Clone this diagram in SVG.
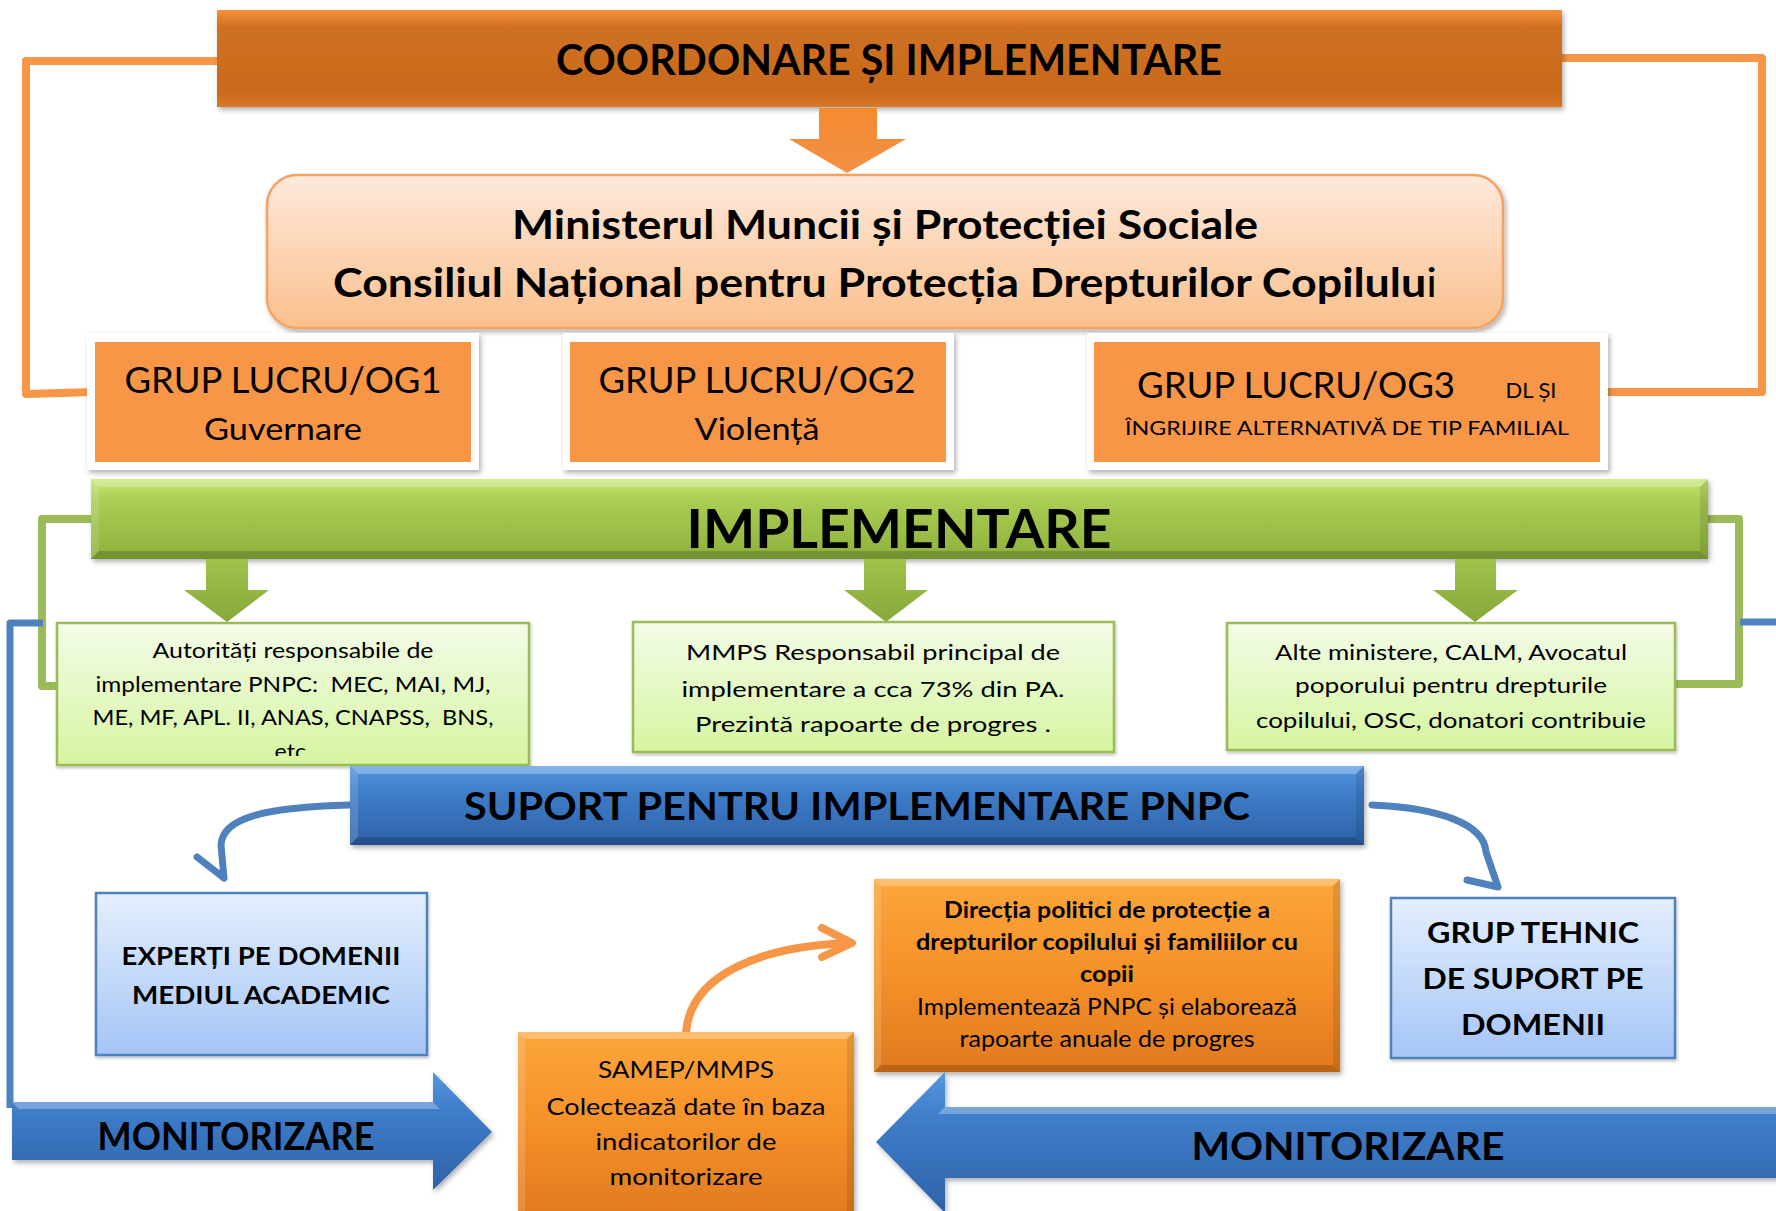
<svg xmlns="http://www.w3.org/2000/svg" width="1776" height="1211" viewBox="0 0 1776 1211">
<defs>
<style>
text{font-family:Lato,"Open Sans","Liberation Sans",sans-serif;fill:#000;text-anchor:middle}
.b{font-weight:bold}
.pre{white-space:pre}
.conn{fill:none;stroke-linejoin:round}
.or{stroke:#F79646;stroke-width:8}
.gr{stroke:#9BBB59;stroke-width:8}
.bl{stroke:#4F81BD;stroke-width:7}
.hl{fill:#fff;opacity:.28}
.hl2{fill:#fff;opacity:.14}
.dk{fill:#000;opacity:.18}
.dk2{fill:#000;opacity:.1}
</style>
<filter id="sh" x="-10%" y="-10%" width="120%" height="130%"><feDropShadow dx="2" dy="3" stdDeviation="2.5" flood-color="#000" flood-opacity="0.3"/></filter>
<filter id="shs" x="-10%" y="-10%" width="120%" height="130%"><feDropShadow dx="1" dy="2" stdDeviation="1.5" flood-color="#000" flood-opacity="0.25"/></filter>
<linearGradient id="gTop" x1="0" y1="0" x2="0" y2="1"><stop offset="0" stop-color="#F7913A"/><stop offset="0.18" stop-color="#CF7021"/><stop offset="0.85" stop-color="#C96A1E"/><stop offset="1" stop-color="#D87A28"/></linearGradient>
<linearGradient id="gPeach" x1="0" y1="0" x2="0" y2="1"><stop offset="0" stop-color="#FDE9DC"/><stop offset="1" stop-color="#FBC08C"/></linearGradient>
<linearGradient id="gOrArr" x1="0" y1="0" x2="0" y2="1"><stop offset="0" stop-color="#F58A30"/><stop offset="1" stop-color="#F29045"/></linearGradient>
<linearGradient id="gGreen" x1="0" y1="0" x2="0" y2="1"><stop offset="0" stop-color="#C6E46E"/><stop offset="0.3" stop-color="#A9CC52"/><stop offset="1" stop-color="#8DB13C"/></linearGradient>
<linearGradient id="gGrArr" x1="0" y1="0" x2="0" y2="1"><stop offset="0" stop-color="#9FC34A"/><stop offset="1" stop-color="#86A83C"/></linearGradient>
<linearGradient id="gLG" x1="0" y1="0" x2="0" y2="1"><stop offset="0" stop-color="#F3FCE8"/><stop offset="1" stop-color="#D6F5A0"/></linearGradient>
<linearGradient id="gBlue" x1="0" y1="0" x2="0" y2="1"><stop offset="0" stop-color="#5396E0"/><stop offset="0.35" stop-color="#3F7CC8"/><stop offset="1" stop-color="#2D62A8"/></linearGradient>
<linearGradient id="gLB" x1="0" y1="0" x2="0" y2="1"><stop offset="0" stop-color="#E4EFFD"/><stop offset="1" stop-color="#A5C5F6"/></linearGradient>
<linearGradient id="gOr" x1="0" y1="0" x2="0" y2="1"><stop offset="0" stop-color="#FCA63A"/><stop offset="0.5" stop-color="#F5912A"/><stop offset="1" stop-color="#E07A1E"/></linearGradient>
<clipPath id="clipA"><rect x="57" y="623" width="472" height="133"/></clipPath>
</defs>
<rect width="1776" height="1211" fill="#fff"/>

<g id="connectors">
<polyline class="conn or" points="217,61 26,61 26,394 95,392"/>
<polyline class="conn or" points="1562,58 1762,58 1762,392 1604,392"/>
<polyline class="conn gr" points="91,519 42,519 42,686 57,686"/>
<polyline class="conn gr" points="1708,519 1739,519 1739,684 1675,684"/>
<polyline class="conn bl" points="43,623 10,623 10,1108"/>
<polyline class="conn bl" points="1740,622 1780,622"/>
<path class="conn bl" stroke-linecap="round" d="M350,805 C265,807 222,818 221,845 L224,878 M197,857 L224,878"/>
<path class="conn bl" stroke-linecap="round" d="M1372,805 C1440,808 1484,824 1486,852 L1498,887 M1467,880 L1498,887"/>
<path class="conn or" stroke-width="9" stroke-linecap="round" d="M686,1033 C690,975 760,946 850,943 M822,928 L852,943 L822,957"/>
</g>

<g id="coordonare">
<rect x="217" y="10" width="1345" height="97" fill="url(#gTop)" filter="url(#sh)"/>
<text class="b" x="889" y="75" font-size="42" textLength="666" lengthAdjust="spacingAndGlyphs">COORDONARE ȘI IMPLEMENTARE</text>
</g>

<g id="arrow-top">
<polygon points="819,108 877,108 877,139 906,139 847,173 789,139 819,139" fill="url(#gOrArr)"/>
</g>

<g id="ministerul">
<rect x="267" y="175" width="1236" height="153" rx="30" fill="url(#gPeach)" stroke="#F4A264" stroke-width="2.5" filter="url(#sh)"/>
<text class="b" x="885" y="239" font-size="40" textLength="746" lengthAdjust="spacingAndGlyphs">Ministerul Muncii și Protecției Sociale</text>
<text class="b" x="885" y="297" font-size="40" textLength="1104" lengthAdjust="spacingAndGlyphs">Consiliul Național pentru Protecția Drepturilor Copilulu<tspan font-weight="normal">i</tspan></text>
</g>

<g id="og1">
<rect x="87" y="333" width="392" height="137" fill="#fff" filter="url(#sh)"/>
<rect x="95" y="342" width="376" height="120" fill="#F79646"/>
<text x="283" y="393" font-size="36" textLength="317" lengthAdjust="spacingAndGlyphs">GRUP LUCRU/OG1</text>
<text x="283" y="440" font-size="31" textLength="158" lengthAdjust="spacingAndGlyphs">Guvernare</text>
</g>

<g id="og2">
<rect x="563" y="333" width="391" height="137" fill="#fff" filter="url(#sh)"/>
<rect x="570" y="342" width="376" height="120" fill="#F79646"/>
<text x="757" y="393" font-size="36" textLength="317" lengthAdjust="spacingAndGlyphs">GRUP LUCRU/OG2</text>
<text x="757" y="440" font-size="31" textLength="125" lengthAdjust="spacingAndGlyphs">Violență</text>
</g>

<g id="og3">
<rect x="1087" y="333" width="521" height="137" fill="#fff" filter="url(#sh)"/>
<rect x="1094" y="342" width="506" height="120" fill="#F79646"/>
<text x="1296" y="398" font-size="36" textLength="318" lengthAdjust="spacingAndGlyphs">GRUP LUCRU/OG3</text>
<text x="1531" y="398" font-size="21" textLength="51" lengthAdjust="spacingAndGlyphs">DL ȘI</text>
<text x="1347" y="435" font-size="20" textLength="444" lengthAdjust="spacingAndGlyphs">ÎNGRIJIRE ALTERNATIVĂ DE TIP FAMILIAL</text>
</g>

<g id="implementare">
<rect x="91" y="479" width="1617" height="80" fill="url(#gGreen)" filter="url(#sh)"/>
<polygon class="hl" points="91,479 1708,479 1700,487 99,487"/>
<polygon class="hl2" points="91,479 99,487 99,551 91,559"/>
<polygon class="dk" points="91,559 99,551 1700,551 1708,559"/>
<polygon class="dk2" points="1708,479 1708,559 1700,551 1700,487"/>
<text class="b" x="899" y="548" font-size="53" textLength="425" lengthAdjust="spacingAndGlyphs">IMPLEMENTARE</text>
</g>

<g id="green-arrows">
<polygon points="206,559 248,559 248,590 269,590 227,622 184,590 206,590" fill="url(#gGrArr)"/>
<polygon points="864,559 906,559 906,590 928,590 886,622 844,590 864,590" fill="url(#gGrArr)"/>
<polygon points="1455,559 1496,559 1496,590 1518,590 1475,622 1433,590 1455,590" fill="url(#gGrArr)"/>
</g>

<g id="autoritati">
<rect x="57" y="623" width="472" height="142" fill="url(#gLG)" stroke="#9BBB59" stroke-width="2.5" filter="url(#shs)"/>
<text x="293" y="658" font-size="21" textLength="281" lengthAdjust="spacingAndGlyphs">Autorități responsabile de</text>
<text class="pre" x="293" y="692" font-size="21" textLength="395" lengthAdjust="spacingAndGlyphs">implementare PNPC:  MEC, MAI, MJ,</text>
<text class="pre" x="293" y="725" font-size="21" textLength="401" lengthAdjust="spacingAndGlyphs">ME, MF, APL. II, ANAS, CNAPSS,  BNS,</text>
<text x="293" y="759" font-size="21" textLength="37" lengthAdjust="spacingAndGlyphs" clip-path="url(#clipA)">etc.</text>
</g>

<g id="mmps">
<rect x="633" y="622" width="481" height="130" fill="url(#gLG)" stroke="#9BBB59" stroke-width="2.5" filter="url(#shs)"/>
<text x="873" y="660" font-size="22" textLength="374" lengthAdjust="spacingAndGlyphs">MMPS Responsabil principal de</text>
<text x="873" y="697" font-size="22" textLength="383" lengthAdjust="spacingAndGlyphs">implementare a cca 73% din PA.</text>
<text x="873" y="732" font-size="22" textLength="356" lengthAdjust="spacingAndGlyphs">Prezintă rapoarte de progres .</text>
</g>

<g id="alte">
<rect x="1227" y="623" width="448" height="127" fill="url(#gLG)" stroke="#9BBB59" stroke-width="2.5" filter="url(#shs)"/>
<text x="1451" y="660" font-size="22" textLength="352" lengthAdjust="spacingAndGlyphs">Alte ministere, CALM, Avocatul</text>
<text x="1451" y="693" font-size="22" textLength="312" lengthAdjust="spacingAndGlyphs">poporului pentru drepturile</text>
<text x="1451" y="728" font-size="22" textLength="390" lengthAdjust="spacingAndGlyphs">copilului, OSC, donatori contribuie</text>
</g>

<g id="suport">
<rect x="350" y="766" width="1014" height="79" fill="url(#gBlue)" filter="url(#sh)"/>
<polygon class="hl" points="350,766 1364,766 1356,774 358,774"/>
<polygon class="hl2" points="350,766 358,774 358,837 350,845"/>
<polygon class="dk" points="350,845 358,837 1356,837 1364,845"/>
<polygon class="dk2" points="1364,766 1364,845 1356,837 1356,774"/>
<text class="b" x="857" y="820" font-size="38" textLength="786" lengthAdjust="spacingAndGlyphs">SUPORT PENTRU IMPLEMENTARE PNPC</text>
</g>

<g id="experti">
<rect x="96" y="893" width="331" height="162" fill="url(#gLB)" stroke="#4F81BD" stroke-width="2.5" filter="url(#shs)"/>
<text class="b" x="261" y="965" font-size="25" textLength="279" lengthAdjust="spacingAndGlyphs">EXPERȚI PE DOMENII</text>
<text class="b" x="261" y="1004" font-size="25" textLength="258" lengthAdjust="spacingAndGlyphs">MEDIUL ACADEMIC</text>
</g>

<g id="grup-tehnic">
<rect x="1391" y="898" width="284" height="160" fill="url(#gLB)" stroke="#4F81BD" stroke-width="2.5" filter="url(#shs)"/>
<text class="b" x="1533" y="943" font-size="28" textLength="212" lengthAdjust="spacingAndGlyphs">GRUP TEHNIC</text>
<text class="b" x="1533" y="989" font-size="28" textLength="221" lengthAdjust="spacingAndGlyphs">DE SUPORT PE</text>
<text class="b" x="1533" y="1035" font-size="28" textLength="144" lengthAdjust="spacingAndGlyphs">DOMENII</text>
</g>

<g id="directia">
<rect x="874" y="879" width="466" height="193" fill="url(#gOr)" filter="url(#sh)"/>
<polygon class="hl" points="874,879 1340,879 1333,886 881,886"/>
<polygon class="hl2" points="874,879 881,886 881,1065 874,1072"/>
<polygon class="dk" points="874,1072 881,1065 1333,1065 1340,1072"/>
<polygon class="dk2" points="1340,879 1340,1072 1333,1065 1333,886"/>
<text class="b" x="1107" y="918" font-size="23" textLength="326" lengthAdjust="spacingAndGlyphs">Direcția politici de protecție a</text>
<text class="b" x="1107" y="950" font-size="23" textLength="382" lengthAdjust="spacingAndGlyphs">drepturilor copilului și familiilor cu</text>
<text class="b" x="1107" y="982" font-size="23" textLength="54" lengthAdjust="spacingAndGlyphs">copii</text>
<text x="1107" y="1015" font-size="23" textLength="380" lengthAdjust="spacingAndGlyphs">Implementează PNPC și elaborează</text>
<text x="1107" y="1047" font-size="23" textLength="295" lengthAdjust="spacingAndGlyphs">rapoarte anuale de progres</text>
</g>

<g id="samep">
<rect x="518" y="1032" width="336" height="185" fill="url(#gOr)" filter="url(#sh)"/>
<polygon class="hl" points="518,1032 854,1032 847,1039 525,1039"/>
<polygon class="hl2" points="518,1032 525,1039 525,1217 518,1217"/>
<polygon class="dk2" points="854,1032 854,1217 847,1217 847,1039"/>
<text x="686" y="1078" font-size="24" textLength="176" lengthAdjust="spacingAndGlyphs">SAMEP/MMPS</text>
<text x="686" y="1115" font-size="24" textLength="279" lengthAdjust="spacingAndGlyphs">Colectează date în baza</text>
<text x="686" y="1150" font-size="24" textLength="181" lengthAdjust="spacingAndGlyphs">indicatorilor de</text>
<text x="686" y="1185" font-size="24" textLength="153" lengthAdjust="spacingAndGlyphs">monitorizare</text>
</g>

<g id="monitorizare-left">
<polygon points="12,1102 433,1102 433,1072 492,1132 433,1190 433,1160 12,1160" fill="url(#gBlue)" filter="url(#sh)"/>
<polygon class="hl" points="12,1102 433,1102 440,1109 19,1109"/>
<text class="b" x="236" y="1150" font-size="38" textLength="277" lengthAdjust="spacingAndGlyphs">MONITORIZARE</text>
</g>

<g id="monitorizare-right">
<polygon points="876,1142 945,1072 945,1107 1780,1107 1780,1178 945,1178 945,1213" fill="url(#gBlue)" filter="url(#sh)"/>
<polygon class="hl" points="945,1107 1780,1107 1780,1114 938,1114"/>
<text class="b" x="1348" y="1160" font-size="38" textLength="313" lengthAdjust="spacingAndGlyphs">MONITORIZARE</text>
</g>
</svg>
